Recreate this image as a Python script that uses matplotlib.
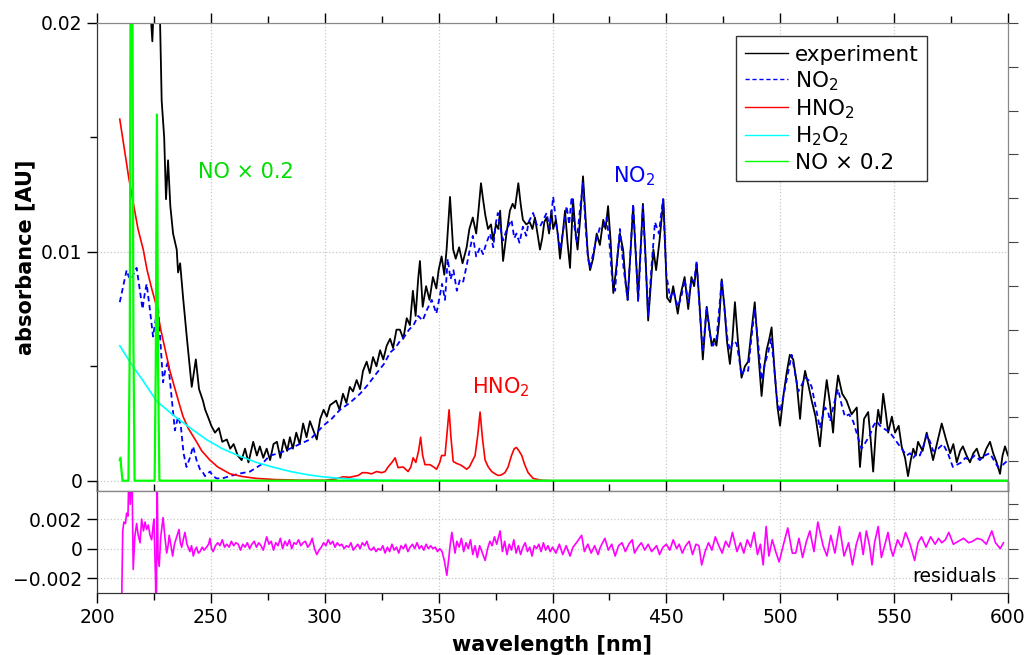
import numpy as np
import matplotlib
matplotlib.use("Agg")
import matplotlib.pyplot as plt

# measured spectrum (wavelength nm, absorbance)
exp_wl = [210, 216, 222, 223.5, 224.3, 225, 226.5, 227.7, 228.4, 229.5, 230.3, 231.2, 232.2, 233.4, 235.0,
          235.6, 236.5, 237.8, 239.5, 241.6, 243.4, 244.8, 246.5, 247.5, 248.7, 250.2, 251.8, 253.5, 255,
          257, 258.5, 260, 261.8, 263.5, 265, 266.5, 268.6, 270.2, 271.5, 273, 274.5, 276, 277.5, 279,
          280.5, 282, 283.5, 284.7, 286, 287.5, 289, 290.5, 292, 293.5, 295, 296.5, 298, 299.5, 300.9,
          302.3, 303.7, 305.0, 306.5, 308.0, 309.5, 311, 312.4, 314, 315.5, 316.8, 318.4, 319.8, 321.2,
          322.7, 324.3, 325.7, 327.2, 328.7, 330, 331.5, 333, 334.5, 336, 337.4, 338.7, 339.9, 341.0,
          341.8, 343.0, 344.5, 346, 347.5, 349, 350, 351.3, 352.5, 353.5, 355.0, 356.4, 357.5, 359,
          360.5, 362.3, 363.5, 365, 366.5, 367.5, 368.6, 369.5, 370.5, 371.7, 373.0, 373.9, 375.2, 376.2,
          377.0, 378.3, 379.8, 381.3, 382.5, 383.5, 385, 386, 387, 388.5, 390, 391.2, 392.3, 393.4,
          394.5, 395.5, 396.4, 397.4, 398.5, 399.5, 400.3, 401.5, 402.4, 403.3, 404.5, 405.5, 406.6,
          407.7, 409.0, 410, 411.0, 412.2, 413.4, 414.5, 415.5, 416.5, 417.8, 419.4, 420.8, 422.3,
          423.3, 424.4, 425.5, 426.7, 428, 429.6, 431, 432, 433.0, 434.2, 435.4, 436.5, 437.6, 438.7,
          439.7, 440.8, 442.0, 443.2, 444.3, 445.5, 447, 448.7, 450.3, 451.7, 453.0, 454, 455.0, 456.2,
          458.0, 459.6, 461.0, 462.2, 463.3, 464.5, 466.0, 467.7, 469.0, 469.9, 471, 472.0, 473.2,
          474.3, 475.5, 476.6, 477.9, 479, 480.1, 481.5, 483.0, 484.5, 485.9, 487.2, 488.8, 490.2,
          491.8, 493, 494.0, 495.2, 496.2, 497.5, 498.8, 499.9, 501.5, 502.8, 504.2, 505.7, 507.2,
          508.7, 509.8, 510.9, 512.3, 513.8, 515.5, 517.4, 518.8, 520.4, 521.8, 523.2, 524.3, 525.4,
          527.2, 529.1, 531.3, 533.6, 535.0, 536.8, 538.6, 539.7, 540.8, 542, 543.0, 544.1, 545.2,
          546.3, 547.4, 549, 550.4, 552, 553.3, 554.8, 556.1, 557.3, 558.4, 559.5, 560.5, 562.5, 564.3,
          565.8, 567.1, 569, 570.9, 572.8, 574.6, 576, 577.5, 579, 580.2, 581.8, 583.3, 584.8, 586.3,
          587.6, 589.0, 590.5, 592.1, 593.5, 595, 596.5, 597.6, 598.7, 600]
exp_abs = [0.034, 0.032, 0.028, 0.0205, 0.0192, 0.021, 0.024, 0.0200, 0.0166, 0.0150, 0.0123, 0.0140, 0.0120,
           0.0108, 0.0101, 0.0091, 0.0095, 0.0080, 0.0062, 0.0041, 0.0053, 0.0040, 0.0035, 0.0031, 0.0028,
           0.0024, 0.0021, 0.0023, 0.0017, 0.0018, 0.0014, 0.0016, 0.0011, 0.0009, 0.0014, 0.0008, 0.0017,
           0.0011, 0.0015, 0.0010, 0.0014, 0.0009, 0.0016, 0.0017, 0.0010, 0.0018, 0.0013, 0.0019, 0.0014,
           0.0021, 0.0016, 0.0025, 0.0019, 0.0026, 0.0022, 0.0018, 0.0027, 0.0031, 0.0028, 0.0033, 0.0034,
           0.0035, 0.0031, 0.0038, 0.0034, 0.0041, 0.0039, 0.0044, 0.0040, 0.0048, 0.0052, 0.0047, 0.0054,
           0.0050, 0.0057, 0.0053, 0.0059, 0.0062, 0.0058, 0.0066, 0.0066, 0.0062, 0.0071, 0.0068, 0.0083,
           0.0072, 0.0088, 0.0096, 0.0076, 0.0085, 0.0079, 0.0089, 0.0084, 0.0092, 0.0098, 0.0090, 0.0101,
           0.0124, 0.0101, 0.0097, 0.0102, 0.0095, 0.0102, 0.0110, 0.0115, 0.0108, 0.0118, 0.0130, 0.0123,
           0.0116, 0.0110, 0.0112, 0.0105, 0.0112, 0.0110, 0.0118, 0.0096, 0.0108, 0.0118, 0.0121, 0.0119,
           0.0130, 0.0121, 0.0114, 0.0112, 0.0113, 0.0110, 0.0115, 0.0108, 0.0101, 0.0106, 0.0113, 0.0115,
           0.0108, 0.0118, 0.0110, 0.0114, 0.0107, 0.0097, 0.0108, 0.0118, 0.0104, 0.0093, 0.0123, 0.0110,
           0.0101, 0.0115, 0.0133, 0.0115, 0.0099, 0.0092, 0.0097, 0.0108, 0.0103, 0.0114, 0.0110, 0.0120,
           0.0105, 0.0082, 0.0093, 0.0108, 0.0101, 0.0088, 0.0079, 0.0099, 0.0120, 0.0100, 0.0080, 0.0101,
           0.0121, 0.0099, 0.0070, 0.0086, 0.0101, 0.0092, 0.0105, 0.0123, 0.0080, 0.0078, 0.0085, 0.0079,
           0.0073, 0.0081, 0.0089, 0.0075, 0.0089, 0.0085, 0.0095, 0.0078, 0.0053, 0.0076, 0.0066, 0.0059,
           0.0062, 0.0059, 0.0070, 0.0088, 0.0076, 0.0061, 0.0051, 0.0062, 0.0078, 0.0060, 0.0045, 0.0050,
           0.0052, 0.0064, 0.0078, 0.0058, 0.0037, 0.0050, 0.0057, 0.0062, 0.0067, 0.0048, 0.0032, 0.0024,
           0.0038, 0.0047, 0.0055, 0.0053, 0.0043, 0.0027, 0.0041, 0.0048, 0.0042, 0.0035, 0.0028, 0.0015,
           0.0030, 0.0044, 0.0034, 0.0021, 0.0037, 0.0046, 0.0038, 0.0035, 0.0029, 0.0032, 0.0006, 0.0027,
           0.0030, 0.0018, 0.0004, 0.0022, 0.0031, 0.0025, 0.0038, 0.0030, 0.0021, 0.0028, 0.0021, 0.0024,
           0.0015, 0.0010, 0.0002, 0.0009, 0.0014, 0.0011, 0.0017, 0.0013, 0.0021, 0.0015, 0.0009, 0.0017,
           0.0025, 0.0018, 0.0012, 0.0016, 0.0008, 0.0013, 0.0015, 0.0011, 0.0008, 0.0012, 0.0014, 0.0010,
           0.0010, 0.0014, 0.0017, 0.0012, 0.0008, 0.0003, 0.0011, 0.0015, 0.0011]

# fitted NO2 contribution
no2_wl = [210, 211.5, 213, 214, 215.2, 216.3, 217.4, 218.7, 220, 221, 221.8, 223.2, 224.6, 225.7, 226.8,
          227.9, 229, 230.1, 231.2, 232.7, 234.2, 235.6, 236.8, 238, 239.3, 240.8, 242.2, 243.7, 245.2,
          246.3, 247.4, 248.5, 249.6, 251, 252.5, 255, 258.4, 262, 267.2, 272, 276, 280, 284.7, 289,
          293.5, 296.5, 299.3, 303, 306.7, 311, 315.5, 319, 322.8, 326, 328.7, 331, 333, 335, 337, 339,
          341, 343, 345, 347, 349, 350, 351.5, 352.8, 354, 355.2, 356.5, 358, 359.4, 360.8, 362.3, 363.7,
          365, 366.5, 368.2, 369.5, 371, 372.6, 374, 375, 376, 377.2, 378.3, 380, 382, 383.2, 384.2,
          385.5, 387, 388.5, 389.5, 391.5, 393, 394.5, 396, 397.4, 398.8, 400.3, 401.7, 403.3, 404.8,
          406.2, 407.3, 408.4, 409.5, 410.6, 412, 413.4, 414.6, 415.6, 416.5, 418, 419.5, 420.9, 422.3,
          423.8, 425, 426.2, 427.5, 428.6, 429.6, 431.2, 433, 434.3, 435.4, 436.6, 437.6, 438.7, 439.7,
          440.9, 442, 443.5, 445, 446.7, 448.5, 450, 451.6, 453, 455, 456.5, 458, 459.6, 461, 462.2,
          463.3, 464.6, 466, 467.7, 469, 470.5, 472, 473.2, 474.3, 475.6, 476.8, 477.9, 479.4, 480.8,
          482, 483, 484.5, 485.9, 487.3, 488.8, 490.3, 491.8, 493.2, 494.7, 496, 497.3, 498.5, 499.9,
          501.4, 502.8, 504, 505, 506.5, 507.9, 509.5, 510.9, 512.4, 513.8, 515.6, 517.4, 518.6, 519.7,
          521, 521.9, 523.7, 525.4, 527, 528.4, 530.2, 532, 533.8, 535.7, 537.6, 539.4, 540.9, 542.3,
          543.8, 545.2, 546.7, 548.2, 549.7, 551.1, 553.3, 555.5, 557, 558.4, 560, 561.3, 562.8, 564.3,
          565.8, 567.1, 569.3, 571.5, 573.6, 575.8, 577.6, 579.5, 581.3, 583.1, 585.4, 587.6, 589.8,
          592, 593.8, 595.6, 597.8, 600]
no2_abs = [0.0078, 0.0085, 0.0092, 0.0089, 0.0088, 0.0091, 0.0093, 0.0084, 0.0075, 0.0082, 0.0086, 0.0075,
           0.0063, 0.0070, 0.0076, 0.0060, 0.0043, 0.0049, 0.0052, 0.0037, 0.0022, 0.0028, 0.0024, 0.0012,
           0.0006, 0.0010, 0.0015, 0.0009, 0.0005, 0.0004, 0.0002, 0.0003, 0.0004, 0.0002, 0.0001, 0.0001,
           0.0002, 0.0003, 0.0004, 0.0007, 0.0011, 0.0012, 0.0014, 0.0016, 0.0018, 0.0021, 0.0024, 0.0027,
           0.0031, 0.0034, 0.0038, 0.0042, 0.0047, 0.0051, 0.0056, 0.0058, 0.0061, 0.0063, 0.0066, 0.0068,
           0.0072, 0.0070, 0.0075, 0.0079, 0.0073, 0.0078, 0.0086, 0.0079, 0.0097, 0.0088, 0.0092, 0.0083,
           0.0088, 0.0087, 0.0094, 0.0101, 0.0107, 0.0098, 0.0102, 0.0099, 0.0104, 0.0108, 0.0102, 0.0112,
           0.0117, 0.0110, 0.0105, 0.0110, 0.0114, 0.0106, 0.0108, 0.0104, 0.0111, 0.0107, 0.0113, 0.0117,
           0.0112, 0.0111, 0.0114, 0.0117, 0.0110, 0.0124, 0.0112, 0.0101, 0.0110, 0.0120, 0.0112, 0.0124,
           0.0112, 0.0104, 0.0118, 0.0130, 0.0110, 0.0097, 0.0093, 0.0100, 0.0106, 0.0111, 0.0111, 0.0115,
           0.0104, 0.0088, 0.0083, 0.0099, 0.0110, 0.0093, 0.0079, 0.0101, 0.0121, 0.0099, 0.0078, 0.0100,
           0.0120, 0.0095, 0.0072, 0.0094, 0.0113, 0.0108, 0.0123, 0.0090, 0.0080, 0.0083, 0.0076, 0.0080,
           0.0088, 0.0078, 0.0088, 0.0087, 0.0096, 0.0075, 0.0056, 0.0076, 0.0064, 0.0059, 0.0062, 0.0075,
           0.0088, 0.0074, 0.0062, 0.0057, 0.0061, 0.0060, 0.0053, 0.0046, 0.0049, 0.0048, 0.0062, 0.0075,
           0.0060, 0.0044, 0.0051, 0.0056, 0.0062, 0.0050, 0.0036, 0.0030, 0.0037, 0.0044, 0.0050, 0.0055,
           0.0047, 0.0039, 0.0042, 0.0045, 0.0044, 0.0041, 0.0032, 0.0023, 0.0028, 0.0032, 0.0030, 0.0026,
           0.0034, 0.0040, 0.0033, 0.0028, 0.0029, 0.0026, 0.0020, 0.0014, 0.0017, 0.0020, 0.0024, 0.0026,
           0.0024, 0.0023, 0.0022, 0.0021, 0.0019, 0.0017, 0.0014, 0.0011, 0.0012, 0.0010, 0.0012, 0.0011,
           0.0015, 0.0020, 0.0017, 0.0013, 0.0014, 0.0016, 0.0012, 0.0006, 0.0007, 0.0008, 0.0010, 0.0009,
           0.0011, 0.0009, 0.0011, 0.0012, 0.0009, 0.0006, 0.0007, 0.0009]

# HNO2 contribution
hno2_wl = [210, 212, 214, 216, 218, 220.3, 222, 224, 226.2, 228, 230, 232, 234, 236, 237.8, 240, 243.7, 246,
           249.6, 253, 258.4, 264, 270, 278, 290, 300, 305, 308, 311, 314.7, 316.5, 318.4, 320.5, 322.8,
           325, 326.5, 327.8, 329.5, 330.9, 332.2, 334.4, 336.6, 337.8, 338.8, 340, 341.2, 342.1, 343,
           344, 346.2, 347.8, 349.1, 350.5, 351.3, 352.8, 353.8, 354.6, 355.4, 356.4, 358, 359.4, 361,
           362.3, 363.5, 364.5, 366, 367.2, 368.2, 369.3, 370.4, 371.8, 373.3, 374.8, 376.1, 377.5, 379.1,
           380.5, 382, 383.2, 384.2, 385.3, 386.5, 387.8, 389.3, 391.5, 395, 400, 600]
hno2_abs = [0.0158, 0.0145, 0.0132, 0.0121, 0.0110, 0.0101, 0.0092, 0.0084, 0.0076, 0.0066, 0.0057, 0.0048,
            0.0041, 0.0034, 0.0028, 0.0023, 0.0017, 0.0013, 0.0009, 0.0006, 0.0003, 0.00018, 0.0001, 0.00005,
            0.00002, 0.00002, 0.00008, 0.00017, 0.00015, 0.00023, 0.00035, 0.00035, 0.0003, 0.0004, 0.00035,
            0.0004, 0.0006, 0.0008, 0.0010, 0.00057, 0.0006, 0.0004, 0.0006, 0.0010, 0.0008, 0.0013, 0.0019,
            0.0011, 0.0007, 0.0007, 0.0006, 0.0005, 0.0008, 0.0011, 0.0011, 0.0022, 0.0031, 0.0019, 0.00084,
            0.00075, 0.0007, 0.0006, 0.0005, 0.0006, 0.0008, 0.0011, 0.0020, 0.0030, 0.0018, 0.0009, 0.0006,
            0.0004, 0.0003, 0.00023, 0.00025, 0.00035, 0.0006, 0.0011, 0.0014, 0.00145, 0.0013, 0.0011,
            0.0007, 0.00035, 0.0001, 0.00002, 0.0, 0.0]

# H2O2 contribution
h2o2_wl = [210, 215, 220, 226, 233, 241, 248, 255, 262, 270, 277, 285, 292, 299, 307, 315, 325, 340, 600]
h2o2_abs = [0.0059, 0.0051, 0.0044, 0.0035, 0.0029, 0.0023, 0.0018, 0.0014, 0.0011, 0.0008, 0.0006, 0.0004,
            0.00027, 0.00017, 0.0001, 0.00005, 0.00002, 0.0, 0.0]

# NO contribution (scaled by 0.2)
no_wl = [210, 210.3, 210.7, 211.2, 213.8, 214.4, 214.8, 215.2, 215.6, 216.0, 216.5, 225.3, 225.8, 226.3,
         226.8, 227.4, 600]
no_abs = [0.0009, 0.0010, 0.0005, 0.0, 0.0, 0.006, 0.025, 0.03, 0.02, 0.006, 0.0, 0.0, 0.005, 0.016,
          0.005, 0.0, 0.0]

# fit residuals
res_wl = [210, 210.8, 211.3, 211.8, 212.5, 213, 213.6, 214.1, 214.6, 215.3, 215.9, 216.6, 217.4, 218.1,
          218.9, 219.6, 220.4, 221.1, 221.8, 222.5, 223.3, 224, 224.6, 225, 225.4, 225.7, 226, 226.4,
          226.8, 227.3, 228, 229, 229.8, 230.6, 231.2, 231.7, 232.5, 233.2, 234, 235, 236, 236.6, 237.2,
          238, 238.6, 239.5, 240.8, 241.5, 242.3, 243, 243.7, 244.5, 245.2, 246.2, 247, 248.1, 249, 249.6,
          250.3, 251, 252, 253, 254, 255, 256, 257, 258, 259, 260, 261, 262, 263, 264, 265, 266, 267,
          268, 269, 270, 271, 272, 273, 274.5, 275.5, 276.5, 277.5, 278.5, 279.5, 280.5, 281.5, 282.5,
          283.5, 284.5, 285.5, 286.5, 287.5, 288.5, 289.5, 290.5, 291.5, 292.5, 293.5, 294.5, 295.5,
          296.5, 297.5, 298.5, 299.5, 300.5, 301.5, 302.5, 303.5, 304.5, 305.5, 306.5, 307.5, 308.5,
          309.5, 310.5, 311.5, 312.5, 313.5, 314.5, 315.5, 316.5, 317.5, 318.5, 319.5, 320.5, 321.5,
          322.5, 323.5, 324.5, 325.5, 326.5, 327.5, 328.5, 329.5, 330.5, 331.5, 332.5, 333.5, 334.5,
          335.5, 336.5, 337.5, 338.5, 339.5, 340.5, 341.5, 342.5, 343.5, 344.5, 345.5, 346.5, 347.5,
          348.5, 349.5, 350.5, 351.5, 352.5, 353.6, 354.5, 355.1, 355.8, 356.5, 357.2, 358, 359, 360,
          361, 362, 363, 364, 365, 366, 367, 368, 369, 370.4, 371.5, 372.5, 373.5, 374.5, 375.5, 377,
          378, 379, 380, 381, 382, 383, 384, 385, 386, 387, 388, 389, 390, 391, 392, 393, 394, 395, 396,
          397, 398, 399, 400, 401.5, 403, 404.5, 406, 407.7, 409, 410.5, 412.8, 414, 415.5, 417, 418.5,
          420, 421, 423, 424.5, 426, 427.5, 429, 430.5, 432, 433.5, 435, 436, 437.5, 439, 440.5, 442,
          443.5, 445.7, 447, 448.5, 450, 451.5, 453, 454.5, 455.6, 457, 458.5, 460, 461.5, 463, 464.3,
          465.5, 467, 468.5, 470, 471.5, 473, 474.5, 476, 477.5, 479, 481, 482.5, 484, 485.5, 487,
          488.5, 490, 491.3, 492.5, 493.8, 495, 496.5, 498, 499.5, 501.6, 503.3, 505.3, 506.8, 508.2,
          509.8, 511.5, 513, 514.8, 516.5, 518.8, 520.5, 522.2, 524, 526, 528, 530, 531.7, 533.4, 535,
          536.4, 537.8, 539.2, 540.3, 541.4, 543, 544.4, 546, 547.3, 548.5, 549.5, 551.5, 553.2, 555,
          557, 559, 560.5, 562, 564, 566, 568, 569.5, 570.9, 572.5, 574, 576, 578.2, 580.5, 582.7, 584.5,
          586.5, 588.5, 590.5, 592.9, 594.5, 596.6, 598, 598.8, 600]
res_val = [-0.006, -0.004, 0.0012, 0.0018, 0.0017, 0.0024, 0.0022, 0.006, 0.003, 0.006, -0.0014, 0.0008,
           0.0017, 0.0009, 0.0004, 0.0020, 0.0012, 0.0018, 0.0013, 0.0016, 0.0009, 0.0006, 0.0015, 0.0020,
           -0.0005, -0.0021, -0.006, 0.005, -0.0005, -0.0012, 0.0008, 0.0021, 0.0008, -0.0003, 0.0002,
           0.0009, 0.0002, -0.0005, 0.0003, 0.0008, 0.0013, 0.0004, 0.0001, 0.0007, 0.0011, 0.0003, -0.0002,
           0.0002, -0.0005, -0.0001, 0.0001, -0.0003, -0.0002, 0.0001, -0.0001, 0.0001, 0.0003, 0.0007, 0.0,
           -0.0002, 0.0002, 0.0004, 0.0002, 0.0006, 0.0001, 0.0003, 0.0001, 0.0005, 0.0002, 0.0004, 0.0003,
           -0.0001, 0.0003, 0.0001, 0.0004, 0.0, 0.0003, 0.0005, 0.0001, 0.0004, 0.0002, -0.0001, 0.0008,
           0.0003, 0.0005, -0.0001, 0.0004, 0.0002, 0.0007, 0.0, 0.0005, 0.0002, 0.0006, 0.0, 0.0004, 0.0003,
           0.0006, 0.0002, 0.0004, 0.0005, 0.0001, 0.0003, 0.0007, 0.0, -0.0004, -0.0001, 0.0001, 0.0004,
           0.0002, 0.0006, 0.0003, 0.0005, 0.0001, 0.0004, 0.0002, 0.0003, 0.0, 0.0002, 0.0001, 0.0004,
           -0.0001, 0.0001, 0.0003, 0.0, 0.0004, 0.0002, 0.0005, 0.0, -0.0001, 0.0001, -0.0002, 0.0,
           -0.0001, 0.0002, -0.0003, 0.0001, -0.0002, 0.0003, -0.0001, 0.0001, -0.0003, 0.0002, 0.0, 0.0003,
           -0.0002, 0.0001, 0.0003, 0.0, 0.0004, 0.0, 0.0002, -0.0001, 0.0003, 0.0, 0.0002, 0.0, 0.0001,
           -0.0002, 0.0, -0.0002, -0.0008, -0.0018, -0.0006, 0.0003, 0.0011, 0.0004, -0.0003, 0.0005,
           0.0001, 0.0007, -0.0002, 0.0004, 0.0, 0.0006, -0.0004, 0.0002, -0.0006, 0.0002, -0.0002, -0.0008,
           0.0, 0.0005, 0.0002, 0.0008, 0.0003, 0.0012, -0.0002, 0.0005, -0.0004, 0.0003, -0.0001, 0.0006,
           -0.0003, 0.0002, -0.0004, 0.0001, 0.0004, -0.0002, 0.0001, -0.0005, 0.0002, 0.0, 0.0003, -0.0002,
           0.0004, -0.0001, 0.0002, -0.0002, 0.0001, -0.0003, 0.0003, -0.0004, 0.0002, -0.0005, 0.0001,
           0.0004, 0.0009, -0.0002, 0.0003, -0.0003, 0.0002, -0.0004, 0.0001, 0.0007, -0.0001, 0.0003,
           -0.0005, 0.0002, 0.0004, -0.0002, 0.0003, 0.0006, -0.0003, 0.0001, 0.0004, -0.0001, 0.0003,
           -0.0002, 0.0002, -0.0004, 0.0001, 0.0003, -0.0001, 0.0006, 0.0, 0.0003, -0.0003, 0.0002, 0.0005,
           -0.0004, 0.0003, 0.0002, -0.0011, -0.0002, 0.0004, -0.0001, 0.0008, 0.0002, -0.0003, 0.0005,
           0.0001, 0.0011, -0.0002, 0.0004, -0.0003, 0.0006, 0.0001, 0.0011, -0.0004, 0.0003, -0.0011,
           0.0015, -0.0005, 0.0006, -0.0002, -0.0009, 0.0004, 0.0014, -0.0003, -0.0003, 0.0007, -0.0006,
           0.0005, 0.0012, -0.0002, 0.0018, 0.0002, -0.0005, 0.0009, -0.0003, 0.0015, -0.0005, 0.0004,
           -0.0011, 0.0003, 0.0011, -0.0004, 0.0012, 0.0002, -0.0011, 0.0004, 0.0015, -0.0006, 0.0003,
           0.0011, 0.0, -0.0005, 0.0006, 0.0001, 0.0011, 0.0003, -0.0008, 0.0004, 0.0008, 0.0001, 0.0008,
           0.0003, 0.0007, 0.0004, 0.0006, 0.0011, 0.0003, 0.0005, 0.0007, 0.0004, 0.0005, 0.0007, 0.0006,
           0.0003, 0.0012, 0.0004, 0.0, 0.0004]

labels = ["experiment", "NO$_2$", "HNO$_2$", "H$_2$O$_2$", "NO \u00d7 0.2"]
colors = ["black", "#0000ff", "#ff0000", "#00ffff", "#00ff00"]


def pair(x, y):
    n = min(len(x), len(y))
    return x[:n], y[:n]


plt.rcParams['font.family'] = ['DejaVu Sans']
plt.rcParams['mathtext.fontset'] = 'dejavusans'

fig = plt.figure(figsize=(10.28, 6.55), dpi=100)
W, H = 1028.0, 655.0
ax = fig.add_axes([97 / W, 1 - 491 / H, 911 / W, 468 / H])
axr = fig.add_axes([97 / W, 1 - 593 / H, 911 / W, 102 / H], sharex=ax)

# main panel
ax.plot(*pair(exp_wl, exp_abs), color=colors[0], lw=1.3, label=labels[0])
ax.plot(*pair(no2_wl, no2_abs), color=colors[1], lw=1.3, ls=(0, (3, 2)), label=labels[1])
ax.plot(*pair(hno2_wl, hno2_abs), color=colors[2], lw=1.2, label=labels[2])
ax.plot(*pair(h2o2_wl, h2o2_abs), color=colors[3], lw=1.2, label=labels[3])
ax.plot(*pair(no_wl, no_abs), color=colors[4], lw=1.6, label=labels[4])

ax.set_xlim(200, 600)
ax.set_ylim(-0.00045, 0.02)
ax.set_yticks([0, 0.01, 0.02])
ax.set_yticklabels(["0", "0.01", "0.02"])
ax.set_yticks(np.arange(0, 0.0201, 0.005), minor=True)
ax.set_xticks(np.arange(200, 601, 50))
ax.set_xticks(np.arange(200, 601, 25), minor=True)
ax.tick_params(axis='x', which='both', bottom=False, top=True, labelbottom=False, direction='out')
ax.tick_params(axis='y', which='both', left=True, right=False, direction='out')
ax.tick_params(which='major', length=7, width=1, labelsize=13.5)
ax.tick_params(which='minor', length=5, width=1)
ax.grid(True, which='major', ls=':', color='#c8c8c8', lw=0.9)
ax.set_axisbelow(True)

# right-hand ticks of the main panel
axt = ax.twinx()
axt.set_ylim(-0.685, 10)
axt.set_yticks(range(0, 11))
axt.tick_params(axis='y', right=True, labelright=False, direction='out', length=7, color='#444444')

ax.text(244.3, 0.0135, "NO \u00d7 0.2", color="#00dd00", fontsize=15, va='center', ha='left')
ax.text(426.5, 0.0133, "NO$_2$", color="#0000ff", fontsize=15, va='center', ha='left')
ax.text(364.7, 0.0041, "HNO$_2$", color="#ff0000", fontsize=15, va='center', ha='left')

leg = ax.legend(loc='upper right', bbox_to_anchor=(0.911, 0.972), fontsize=15.5, frameon=True,
                fancybox=False, framealpha=1, edgecolor='#333333', borderaxespad=0,
                handlelength=2.0, handletextpad=0.3, labelspacing=0.2, borderpad=0.4)
leg.get_frame().set_linewidth(1.0)
for ln in leg.get_lines():
    ln.set_linewidth(1.0)

# residual panel
axr.plot(*pair(res_wl, res_val), color='#ff00ff', lw=1.2)
axr.set_ylim(-0.003, 0.0039)
axr.set_yticks([-0.002, 0, 0.002])
axr.set_yticklabels(["\u22120.002", "0", "0.002"])
axr.tick_params(axis='x', which='both', top=True, bottom=True, direction='out')
axr.tick_params(axis='y', left=True, right=False, direction='out')
axr.tick_params(which='major', length=7, width=1, labelsize=13.5)
axr.tick_params(which='minor', length=5, width=1)
axr.grid(True, which='major', ls=':', color='#c8c8c8', lw=0.9)
axr.set_axisbelow(True)
axr.text(595, -0.0019, "residuals", fontsize=13.5, ha='right', va='center')

axrt = axr.twinx()
axrt.set_ylim(-0.003, 0.0039)
axrt.set_yticks([-0.002, 0, 0.002, 0.003])
axrt.tick_params(axis='y', right=True, labelright=False, direction='out', length=7, color='#444444')

for a in (ax, axt, axr, axrt):
    a.spines['top'].set_color('#888888')
    a.spines['right'].set_color('#888888')
    a.spines['left'].set_color('#333333')
    a.spines['bottom'].set_color('#333333')

fig.text(25 / W, 1 - 257 / H, "absorbance [AU]", rotation=90, fontsize=15, fontweight='bold',
         ha='center', va='center')
fig.text(552 / W, 1 - 645 / H, "wavelength [nm]", fontsize=15, fontweight='bold', ha='center', va='center')

fig.savefig("out.png", dpi=100)
